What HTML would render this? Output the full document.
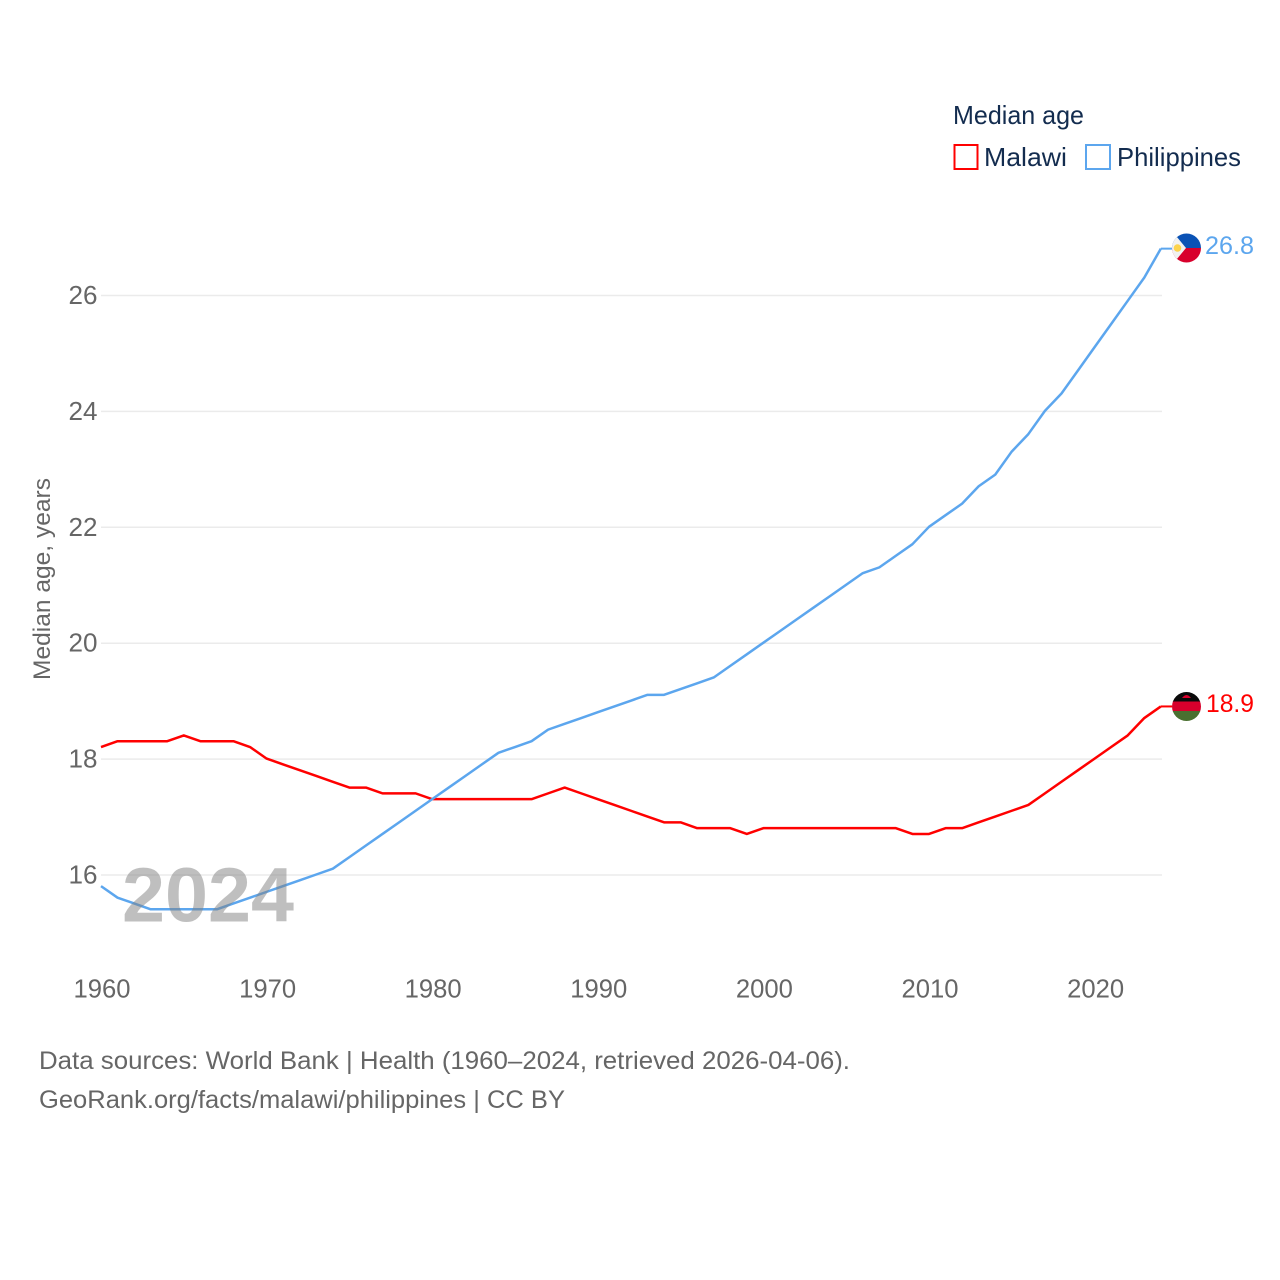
<!DOCTYPE html>
<html lang="en">
<head>
<meta charset="utf-8">
<title>Median age: Malawi and Philippines</title>
<style>
html,body{margin:0;padding:0;background:#fff;width:1280px;height:1280px;overflow:hidden}
svg{display:block}
text{font-family:"Liberation Sans",sans-serif}
</style>
</head>
<body>
<svg id="chart" xmlns="http://www.w3.org/2000/svg" width="1280" height="1280" viewBox="0 0 1280 1280">
  <defs>
    <clipPath id="clip-ph"><circle cx="1186.5" cy="248" r="14.5"/></clipPath>
    <clipPath id="clip-mw"><circle cx="1186.5" cy="706.5" r="14.5"/></clipPath>
  </defs>
  <rect width="1280" height="1280" fill="#fff"/>
  <g id="grid"></g>
  <g id="y-ticks"></g>
  <g id="x-ticks"></g>
  <text transform="translate(50,680) rotate(-90)" font-size="24.5" fill="#666" textLength="202" lengthAdjust="spacingAndGlyphs">Median age, years</text>
  <g id="series"></g>
  <text x="122" y="921.5" font-size="77" font-weight="700" fill="#808080" fill-opacity="0.5" textLength="172" lengthAdjust="spacingAndGlyphs">2024</text>

  <g clip-path="url(#clip-ph)">
    <rect x="1172" y="233" width="29" height="15" fill="#0a52b5"/>
    <rect x="1172" y="248" width="29" height="15" fill="#d8002c"/>
    <path d="M1172 231 L1172 265 L1186 248 Z" fill="#f1f1f1"/>
    <circle cx="1177.5" cy="248" r="3.8" fill="#fcd34d"/>
  </g>
  <g clip-path="url(#clip-mw)">
    <rect x="1172" y="692" width="29" height="10" fill="#0a0a0a"/>
    <rect x="1172" y="701.5" width="29" height="10" fill="#d8002c"/>
    <rect x="1172" y="711" width="29" height="11" fill="#4a7030"/>
    <path d="M1182 698 Q1186.5 692 1191 698 Z" fill="#d8002c"/>
  </g>

  <text id="label-ph" x="1205" y="254" font-size="25" fill="#5ca6ee" textLength="49" lengthAdjust="spacingAndGlyphs">26.8</text>
  <text id="label-mw" x="1206" y="712" font-size="25" fill="#ff0000" textLength="48" lengthAdjust="spacingAndGlyphs">18.9</text>

  <g>
    <text x="953" y="124" font-size="26" fill="#132c4f" textLength="131" lengthAdjust="spacingAndGlyphs">Median age</text>
    <rect x="954.5" y="145" width="23" height="24" fill="none" stroke="#ff0000" stroke-width="2"/>
    <text x="984" y="166" font-size="26" fill="#132c4f" textLength="83" lengthAdjust="spacingAndGlyphs">Malawi</text>
    <rect x="1086" y="145" width="24" height="24" fill="none" stroke="#5ca6ee" stroke-width="2"/>
    <text x="1117" y="166" font-size="26" fill="#132c4f" textLength="124" lengthAdjust="spacingAndGlyphs">Philippines</text>
  </g>

  <text x="39" y="1069" font-size="25" fill="#666" textLength="811" lengthAdjust="spacingAndGlyphs">Data sources: World Bank | Health (1960–2024, retrieved 2026-04-06).</text>
  <text x="39" y="1108" font-size="25" fill="#666" textLength="526" lengthAdjust="spacingAndGlyphs">GeoRank.org/facts/malawi/philippines | CC BY</text>
</svg>
<script>
const startYear = 1960;
const xTickLabels = [1960, 1970, 1980, 1990, 2000, 2010, 2020];
const yTickLabels = [16, 18, 20, 22, 24, 26];
const malawiValues = [18.2,18.3,18.3,18.3,18.3,18.4,18.3,18.3,18.3,18.2,18.0,17.9,17.8,17.7,17.6,17.5,17.5,17.4,17.4,17.4,17.3,17.3,17.3,17.3,17.3,17.3,17.3,17.4,17.5,17.4,17.3,17.2,17.1,17.0,16.9,16.9,16.8,16.8,16.8,16.7,16.8,16.8,16.8,16.8,16.8,16.8,16.8,16.8,16.8,16.7,16.7,16.8,16.8,16.9,17.0,17.1,17.2,17.4,17.6,17.8,18.0,18.2,18.4,18.7,18.9];
const philippinesValues = [15.8,15.6,15.5,15.4,15.4,15.4,15.4,15.4,15.5,15.6,15.7,15.8,15.9,16.0,16.1,16.3,16.5,16.7,16.9,17.1,17.3,17.5,17.7,17.9,18.1,18.2,18.3,18.5,18.6,18.7,18.8,18.9,19.0,19.1,19.1,19.2,19.3,19.4,19.6,19.8,20.0,20.2,20.4,20.6,20.8,21.0,21.2,21.3,21.5,21.7,22.0,22.2,22.4,22.7,22.9,23.3,23.6,24.0,24.3,24.7,25.1,25.5,25.9,26.3,26.8];

const NS = 'http://www.w3.org/2000/svg';
function xScale(year) { return 101 + (year - 1960) * 16.56; }
function yScale(value) { return 875 - (value - 16) * 57.95; }
function mk(tag, attrs, parent) {
  const el = document.createElementNS(NS, tag);
  Object.keys(attrs).forEach(function (k) { el.setAttribute(k, attrs[k]); });
  parent.appendChild(el);
  return el;
}

const grid = document.getElementById('grid');
const yTicks = document.getElementById('y-ticks');
const xTicks = document.getElementById('x-ticks');
const seriesGroup = document.getElementById('series');

yTickLabels.forEach(function (v) {
  const line = mk('line', { x1: 101, x2: 1162, y1: yScale(v), y2: yScale(v), stroke: '#ebebeb', 'stroke-width': 1.5 }, grid);
  
  
  const t = mk('text', { x: 68.5, y: yScale(v) + 8.5, 'font-size': 25.5, fill: '#666', textLength: 29, lengthAdjust: 'spacingAndGlyphs' }, yTicks);
  
  
  t.textContent = String(v);
});

xTickLabels.forEach(function (y) {
  const t = mk('text', { x: xScale(y) - 27.5, y: 997.5, 'font-size': 25.5, fill: '#666', textLength: 57, lengthAdjust: 'spacingAndGlyphs' }, xTicks);
  
  
  t.textContent = String(y);
});

function drawSeries(values, color, name) {
  const pts = values.map(function (v, i) { return xScale(startYear + i).toFixed(2) + ',' + (yScale(v) - 0.5).toFixed(2); });
  const line = mk('polyline', { points: pts.join(' '), fill: 'none', stroke: color, 'stroke-width': 2.5, 'stroke-linejoin': 'round' }, seriesGroup);
  
  
  const last = values[values.length - 1];
  const endX = xScale(startYear + values.length - 1);
  const conn = mk('line', { x1: endX, x2: 1172, y1: yScale(last) - 0.5, y2: yScale(last) - 0.5, stroke: color, 'stroke-width': 2 }, seriesGroup);
  
  
}
drawSeries(malawiValues, '#ff0000', 'malawi-line');
drawSeries(philippinesValues, '#5ca6ee', 'philippines-line');
</script>
</body>
</html>
